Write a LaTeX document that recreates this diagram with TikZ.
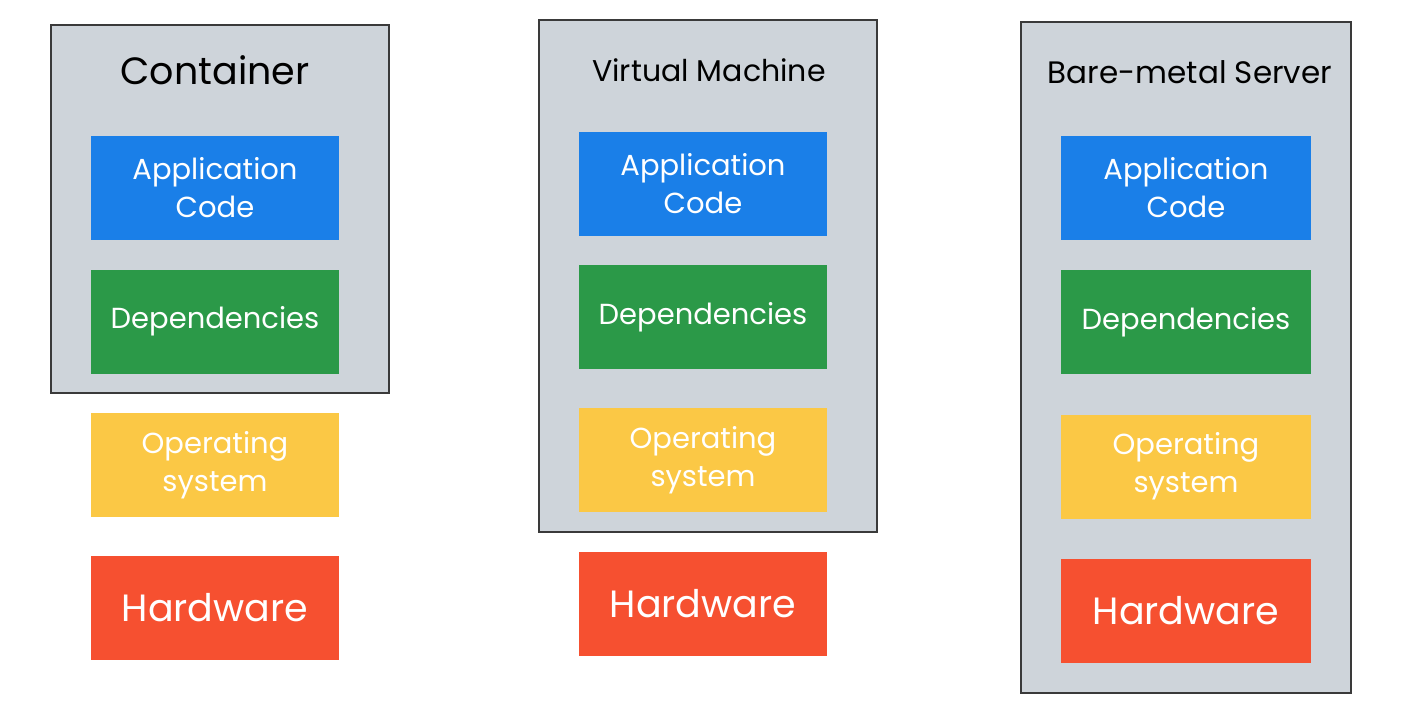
\documentclass[tikz,border=0pt]{standalone}
\usepackage{fontspec}
\setmainfont{Poppins}
\definecolor{frameg}{HTML}{CED4DA}
\definecolor{frameb}{HTML}{3A3A3A}
\definecolor{gblue}{HTML}{1A7FE8}
\definecolor{ggreen}{HTML}{2B9948}
\definecolor{gyellow}{HTML}{FBC845}
\definecolor{gred}{HTML}{F65030}
\begin{document}
\begin{tikzpicture}[x=1pt,y=-1pt,
  frame/.style={draw=frameb,fill=frameg,line width=1.6pt,inner sep=0pt},
  layer/.style={inner sep=0pt,minimum width=248pt,minimum height=104pt,text=white,align=center,font=\fontsize{29}{38}\selectfont},
  app/.style={layer,fill=gblue},
  dep/.style={layer,fill=ggreen},
  os/.style={layer,fill=gyellow},
  hw/.style={layer,fill=gred,font=\fontsize{38}{42}\selectfont},
  ttl/.style={inner sep=0pt,text=black}]
\useasboundingbox (0,0) rectangle (1401,724);
\fill[white] (0,0) rectangle (1401,724);
% Container
\node[frame,minimum width=338pt,minimum height=368pt] (cf) at (220,209) {};
\node[ttl,font=\fontsize{38}{42}\selectfont] (ct) at (215,70) {Container};
\node[app] (ca) at (215,188) {Application\\Code};
\node[dep] (cd) at (215,321.5) {Dependencies};
\node[os] (co) at (215,465) {Operating\\system};
\node[hw] (ch) at (215,608) {Hardware};
% Virtual machine
\node[frame,minimum width=338pt,minimum height=512pt] (vf) at (708,276) {};
\node[ttl,font=\fontsize{30}{34}\selectfont] (vt) at (709,70) {Virtual Machine};
\node[app] (va) at (703,184) {Application\\Code};
\node[dep] (vd) at (703,317) {Dependencies};
\node[os] (vo) at (703,460) {Operating\\system};
\node[hw] (vh) at (703,604) {Hardware};
% Bare-metal
\node[frame,minimum width=330pt,minimum height=671pt] (bf) at (1186,357.5) {};
\node[ttl,font=\fontsize{31}{35}\selectfont] (bt) at (1190,72) {Bare-metal Server};
\node[app,minimum width=250pt] (ba) at (1186,187.5) {Application\\Code};
\node[dep,minimum width=250pt] (bd) at (1186,322) {Dependencies};
\node[os,minimum width=250pt] (bo) at (1186,466.5) {Operating\\system};
\node[hw,minimum width=250pt] (bh) at (1186,610.5) {Hardware};
\end{tikzpicture}
\end{document}
